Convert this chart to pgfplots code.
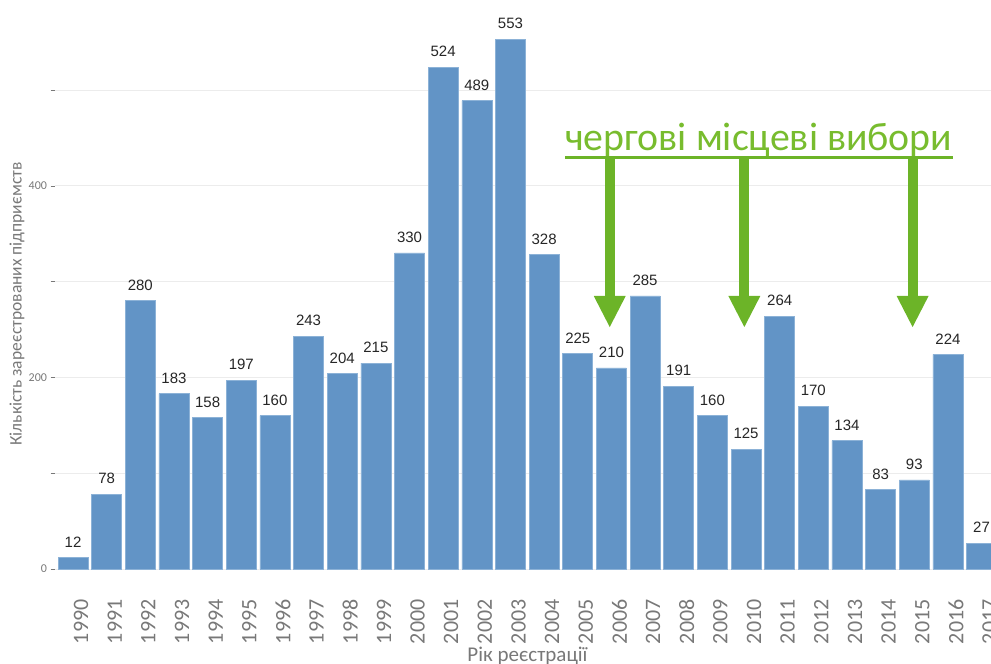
\documentclass[border=0pt]{standalone}
\usepackage{pgfplots}
\pgfplotsset{compat=1.18}
\usepackage{fontspec}
\setmainfont{Carlito}
\newfontfamily\arialf{Liberation Sans}
\definecolor{barblue}{RGB}{98,148,198}
\definecolor{bardraw}{RGB}{140,178,215}
\definecolor{annotext}{RGB}{120,188,46}
\definecolor{annogreen}{RGB}{108,180,40}
\definecolor{tickgray}{RGB}{120,120,120}
\definecolor{gridgray}{RGB}{236,236,236}
\begin{document}
\begin{tikzpicture}
\path[use as bounding box] (0,0) rectangle (991pt,664pt);
\clip (0,0) rectangle (991pt,664pt);
\begin{axis}[
  at={(54.5pt,95pt)}, anchor=south west,
  scale only axis, width=936.5pt, height=569pt,
  xmin=1989.45, xmax=2017.28, ymin=0, ymax=594,
  ybar, bar width=30pt,
  axis line style={draw=none},
  xtick=data, xtick style={draw=none},
  ytick={0,200,400}, minor ytick={100,300,500},
  ymajorgrids, yminorgrids,
  major grid style={gridgray, line width=0.8pt},
  minor grid style={gridgray, line width=0.8pt},
  ytick style={tickgray, line width=0.6pt},
  minor tick style={tickgray, line width=0.6pt},
  tick align=outside, major tick length=4pt, minor tick length=4pt,
  /pgf/number format/assume math mode=true,
  /pgf/number format/1000 sep={},
  yticklabel style={font=\fontsize{12}{12}\selectfont, text=tickgray},
  xticklabel shift=23pt,
  xticklabel style={font=\fontsize{22}{22}\selectfont, text=tickgray, xshift=8pt, rotate=90, anchor=east},
  nodes near coords,
  every node near coord/.append style={font=\arialf\fontsize{15}{15}\selectfont, text=black!85, inner sep=0pt, yshift=10pt},
  clip=false,
]
\addplot[fill=barblue, draw=bardraw, line width=0.6pt] coordinates {
(1990,12) (1991,78) (1992,280) (1993,183) (1994,158) (1995,197) (1996,160)
(1997,243) (1998,204) (1999,215) (2000,330) (2001,524) (2002,489) (2003,553)
(2004,328) (2005,225) (2006,210) (2007,285) (2008,191) (2009,160) (2010,125)
(2011,264) (2012,170) (2013,134) (2014,83) (2015,93) (2016,224) (2017,27)
};
% annotation
\node[anchor=base west, inner sep=0pt, text=annotext, font=\fontsize{39.8}{39.8}\selectfont] at (axis cs:2004.62,437) {чергові місцеві вибори};
\fill[annogreen] (axis cs:2004.62,428.5) rectangle (axis cs:2016.15,431.5);
\fill[annogreen] (axis cs:2005.80,284.5) rectangle (axis cs:2006.10,428.5);
\fill[annogreen] (axis cs:2005.475,285) -- (axis cs:2006.425,285) -- (axis cs:2005.95,252.6) -- cycle;
\fill[annogreen] (axis cs:2009.80,284.5) rectangle (axis cs:2010.10,428.5);
\fill[annogreen] (axis cs:2009.475,285) -- (axis cs:2010.425,285) -- (axis cs:2009.95,252.6) -- cycle;
\fill[annogreen] (axis cs:2014.80,284.5) rectangle (axis cs:2015.10,428.5);
\fill[annogreen] (axis cs:2014.475,285) -- (axis cs:2015.425,285) -- (axis cs:2014.95,252.6) -- cycle;
\end{axis}
\node[rotate=90, inner sep=0pt, text=tickgray, font=\fontsize{17.5}{17.5}\selectfont] at (17pt,360pt) {Кількість зареєстрованих підприємств};
\node[anchor=base, inner sep=0pt, text=tickgray, font=\fontsize{21}{21}\selectfont] at (527.5pt,2pt) {Рік реєстрації};
\end{tikzpicture}
\end{document}
